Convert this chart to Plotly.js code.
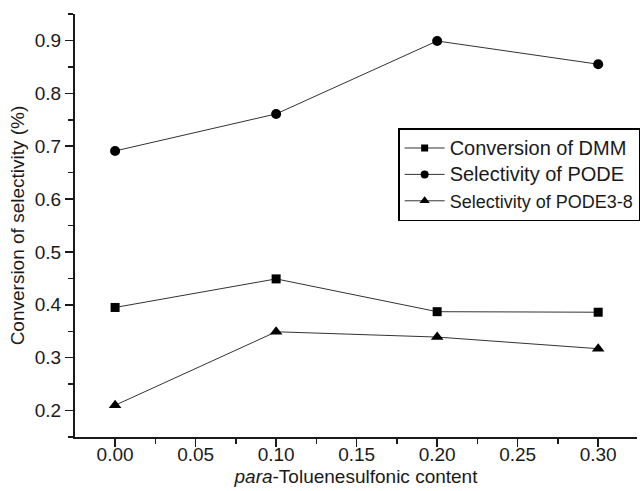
<!DOCTYPE html>
<html>
<head>
<meta charset="utf-8">
<script src="https://cdn.plot.ly/plotly-3.0.1.min.js"></script>
<style>html,body{margin:0;padding:0;background:#fff;overflow:hidden;width:640px;height:491px;}#chart{width:652px;height:491px;}</style>
</head>
<body>
<div id="chart"></div>
<script>
var content = [0.00, 0.10, 0.20, 0.30];
var conversionDMM = [0.395, 0.449, 0.387, 0.386];
var selectivityPODE = [0.691, 0.761, 0.899, 0.855];
var selectivityPODE38 = [0.210, 0.349, 0.339, 0.317];
var seriesNames = ['Conversion of DMM', 'Selectivity of PODE', 'Selectivity of PODE3-8'];
var legendFontSizes = [20, 20, 18];
var xTickValues = [0.00, 0.05, 0.10, 0.15, 0.20, 0.25, 0.30];
var yTickValues = [0.2, 0.3, 0.4, 0.5, 0.6, 0.7, 0.8, 0.9];

var lineStyle = {color: '#333', width: 1};
var font = 'Liberation Sans, Arial, sans-serif';

var dataSeries = [conversionDMM, selectivityPODE, selectivityPODE38];
var symbols = ['square', 'circle', 'triangle-up'];
var plotSizes = [9, 10, 11];
var legendSizes = [7, 8, 9];

var traces = [];
dataSeries.forEach(function (ys, i) {
  traces.push({
    x: content, y: ys, type: 'scatter', mode: 'lines+markers',
    line: lineStyle, marker: {symbol: symbols[i], size: plotSizes[i], color: '#000'},
    showlegend: false, hoverinfo: 'x+y'
  });
});
dataSeries.forEach(function (ys, i) {
  traces.push({
    x: [null], y: [null], type: 'scatter', mode: 'lines+markers',
    name: '<span style="font-size:' + legendFontSizes[i] + 'px">' + seriesNames[i] + '</span>',
    line: lineStyle, marker: {symbol: symbols[i], size: legendSizes[i], color: '#000'},
    showlegend: true
  });
});

var layout = {
  width: 652, height: 491,
  margin: {l: 75, r: 12, t: 14, b: 54},
  paper_bgcolor: '#fff', plot_bgcolor: '#fff',
  font: {family: font, size: 19, color: '#1a1a1a'},
  showlegend: true,
  legend: {
    x: 0.575, y: 0.7298, xanchor: 'left', yanchor: 'top',
    bordercolor: '#000', borderwidth: 1.5, bgcolor: '#fff',
    font: {family: font, size: 18, color: '#1a1a1a'},
    traceorder: 'normal', itemwidth: 40
  },
  xaxis: {
    range: [-0.0249, 0.3241],
    tickvals: xTickValues, tickformat: '.2f',
    ticks: 'outside', ticklen: 8, tickwidth: 1.5, tickcolor: '#1a1a1a',
    ticklabelstandoff: -9,
    minor: {dtick: 0.025, ticks: 'outside', ticklen: 5, tickwidth: 1.5, tickcolor: '#1a1a1a'},
    showline: true, linecolor: '#1a1a1a', linewidth: 2,
    showgrid: false, zeroline: false,
    tickfont: {size: 19},
    title: {text: '<i>para</i>-Toluenesulfonic content', font: {size: 19}, standoff: 6}
  },
  yaxis: {
    range: [0.15, 0.95],
    tickvals: yTickValues, tickformat: '.1f',
    ticks: 'outside', ticklen: 8, tickwidth: 1.5, tickcolor: '#1a1a1a',
    minor: {dtick: 0.05, ticks: 'outside', ticklen: 5, tickwidth: 1.5, tickcolor: '#1a1a1a'},
    showline: true, linecolor: '#1a1a1a', linewidth: 2,
    showgrid: false, zeroline: false,
    tickfont: {size: 19},
    title: {text: 'Conversion of selectivity (%)', font: {size: 19}, standoff: 5}
  }
};

Plotly.newPlot('chart', traces, layout, {staticPlot: true, displayModeBar: false});
</script>
</body>
</html>
